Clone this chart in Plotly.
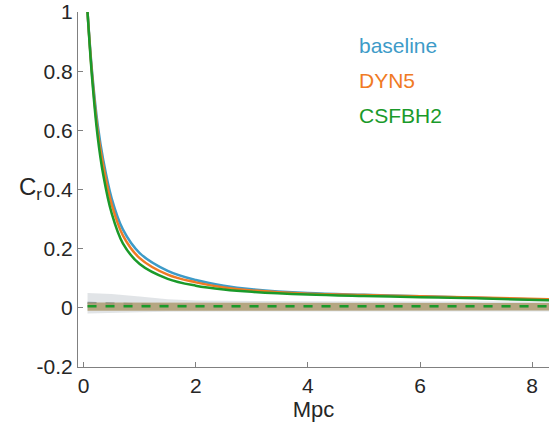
import plotly.graph_objects as go

# correlation curves
r = [0.07, 0.15, 0.25, 0.35, 0.5, 0.7, 1.0, 1.5, 2.0, 2.5, 3.0, 4.0, 5.0, 6.0, 7.0, 8.3]
c_baseline = [1.0, 0.80, 0.62, 0.50, 0.37, 0.265, 0.185, 0.125, 0.094, 0.075, 0.063, 0.050, 0.044, 0.039, 0.034, 0.027]
c_dyn5 = [1.0, 0.79, 0.60, 0.48, 0.35, 0.245, 0.168, 0.112, 0.086, 0.069, 0.059, 0.048, 0.043, 0.039, 0.035, 0.029]
c_csfbh2 = [1.0, 0.78, 0.58, 0.45, 0.32, 0.218, 0.148, 0.098, 0.075, 0.062, 0.054, 0.045, 0.040, 0.036, 0.032, 0.026]

# null levels and bands
r_null = [0.07, 0.5, 1.0, 1.5, 2.0, 3.0, 4.0, 6.0, 8.3]
null_baseline = [0.016, 0.014, 0.011, 0.008, 0.006, 0.005, 0.005, 0.005, 0.005]
null_csfbh2 = [0.005, 0.005, 0.005, 0.005, 0.005, 0.005, 0.005, 0.005, 0.005]
gray_hi = [0.050, 0.047, 0.038, 0.029, 0.025, 0.023, 0.022, 0.021, 0.021]
gray_lo = [-0.019, -0.018, -0.015, -0.013, -0.012, -0.012, -0.012, -0.012, -0.012]
tan_hi = [0.018, 0.018, 0.018, 0.017, 0.017, 0.017, 0.016, 0.016, 0.016]
tan_lo = [-0.010, -0.010, -0.010, -0.010, -0.009, -0.009, -0.009, -0.009, -0.009]

blue = "#3d9bc8"
orange = "#f07a24"
green = "#1a9a2a"

W, H = 556, 433
L, R, T, B = 78, W - 549, 12, H - 367
pw = W - L - R
ph = H - T - B

fig = go.Figure()

fig.add_trace(go.Scatter(x=r_null, y=gray_hi, mode="lines", line=dict(width=0), hoverinfo="skip"))
fig.add_trace(go.Scatter(x=r_null, y=gray_lo, mode="lines", line=dict(width=0), fill="tonexty",
                         fillcolor="rgba(205,210,215,0.6)", hoverinfo="skip"))
fig.add_trace(go.Scatter(x=r_null, y=null_baseline, mode="lines",
                         line=dict(color="#7f95a5", width=2.5, dash="dash"), hoverinfo="skip"))
fig.add_trace(go.Scatter(x=r_null, y=tan_hi, mode="lines", line=dict(width=0), hoverinfo="skip"))
fig.add_trace(go.Scatter(x=r_null, y=tan_lo, mode="lines", line=dict(width=0), fill="tonexty",
                         fillcolor="rgba(170,150,105,0.8)", hoverinfo="skip"))
fig.add_trace(go.Scatter(x=r_null, y=null_csfbh2, mode="lines",
                         line=dict(color=green, width=2.5, dash="dash"), hoverinfo="skip"))

fig.add_trace(go.Scatter(x=r, y=c_baseline, mode="lines", line=dict(color=blue, width=2.5, shape="spline")))
fig.add_trace(go.Scatter(x=r, y=c_dyn5, mode="lines", line=dict(color=orange, width=2.5, shape="spline")))
fig.add_trace(go.Scatter(x=r, y=c_csfbh2, mode="lines", line=dict(color=green, width=2.5, shape="spline")))


def px(x, y):
    # window pixel -> paper coords
    return (x - L) / pw, 1 - (y - T) / ph


# text legend
names = ["baseline", "DYN5", "CSFBH2"]
colors = [blue, orange, green]
ypos = [46, 81, 115]
for n, col, yp in zip(names, colors, ypos):
    ax, ay = px(357, yp)
    fig.add_annotation(text=n, x=ax, y=ay, xref="paper", yref="paper",
                       showarrow=False, xanchor="left", yanchor="middle", font=dict(color=col, size=21))

ax, ay = px(30, 188)
fig.add_annotation(text="C<sub>r</sub>", x=ax, y=ay, xref="paper", yref="paper",
                   showarrow=False, xanchor="center", yanchor="middle", font=dict(size=24, color="#262626"))

fig.update_layout(
    width=W, height=H,
    margin=dict(l=L, r=R, t=T, b=B, autoexpand=False),
    plot_bgcolor="white", paper_bgcolor="white",
    showlegend=False,
    font=dict(family="Liberation Sans, Arial, sans-serif", size=21, color="#262626"),
)

fig.update_xaxes(range=[-0.1, 8.3], tickvals=[0, 2, 4, 6, 8], showline=True, linecolor="#808080",
                 linewidth=1, ticks="inside", ticklen=5, tickcolor="#808080", showgrid=False, zeroline=False,
                 automargin=False, tickfont=dict(size=21), ticklabeloverflow="allow",
                 title=dict(text="Mpc", font=dict(size=22), standoff=2))
fig.update_yaxes(range=[-0.2, 1.0], tickvals=[-0.2, 0, 0.2, 0.4, 0.6, 0.8, 1],
                 ticktext=["-0.2", "0", "0.2", "0.4", "0.6", "0.8", "1"], showline=True, linecolor="#808080",
                 linewidth=1, ticks="inside", ticklen=5, tickcolor="#808080", showgrid=False, zeroline=False,
                 automargin=False, tickfont=dict(size=21), ticklabeloverflow="allow")

# drop the default 8px page margin so the figure sits at the window corner
fig.write_html("out.html", config={"displayModeBar": False},
               post_script="document.body.style.margin='0';")
